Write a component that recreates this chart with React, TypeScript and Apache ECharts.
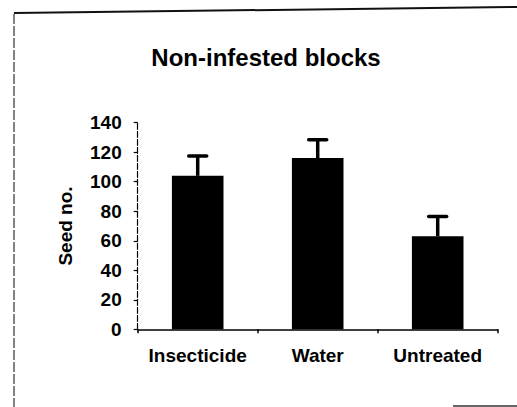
import React, { useEffect, useRef } from "react";
import * as echarts from "echarts";

const categories = ["Insecticide", "Water", "Untreated"];
const means = [104, 116, 63];
const errors = [13.5, 12.5, 13.5];
const yTicks = { min: 0, max: 140, interval: 20 };
const titleText = "Non-infested blocks";
const yName = "Seed no.";

const FONT = "'Liberation Sans', Arial, sans-serif";

export default function App() {
  const ref = useRef<HTMLDivElement>(null);
  useEffect(() => {
    if (!ref.current) return;
    const chart = echarts.init(ref.current, null, { renderer: "svg" });
    chart.setOption({
      animation: false,
      backgroundColor: "#ffffff",
      textStyle: { fontFamily: FONT },
      grid: { left: 137.7, right: 19.3, top: 122.7, bottom: 77.7, containLabel: false },
      graphic: [
        {
          type: "text",
          x: 266,
          y: 57,
          style: {
            text: titleText,
            fontFamily: FONT,
            fontWeight: "bold",
            fontSize: 24,
            fill: "#000",
            textAlign: "center",
            textVerticalAlign: "middle",
          },
        },
        { type: "line", shape: { x1: 14, y1: 13, x2: 517, y2: 7 }, style: { stroke: "#111", lineWidth: 2 } },
        { type: "line", shape: { x1: 14, y1: 14, x2: 14, y2: 407 }, style: { stroke: "#333", lineWidth: 1.2, lineDash: [10, 2] } },
        { type: "line", shape: { x1: 453, y1: 406, x2: 517, y2: 406 }, style: { stroke: "#333", lineWidth: 1.5 } },
      ],
      xAxis: {
        type: "category",
        data: categories,
        axisLine: { lineStyle: { color: "#000", width: 1.5 } },
        axisTick: { show: true, length: 4, lineStyle: { color: "#000", width: 1.5 } },
        axisLabel: { color: "#000", fontWeight: "bold", fontSize: 19, fontFamily: FONT, margin: 17, interval: 0 },
        splitLine: { show: false },
      },
      yAxis: {
        type: "value",
        min: yTicks.min,
        max: yTicks.max,
        interval: yTicks.interval,
        name: yName,
        nameLocation: "middle",
        nameGap: 63,
        nameRotate: 90,
        nameTextStyle: { color: "#000", fontWeight: "bold", fontSize: 19, fontFamily: FONT },
        axisLine: { show: true, lineStyle: { color: "#000", width: 1.2, type: [6, 2] } },
        axisTick: { show: true, length: 4, lineStyle: { color: "#000", width: 1.2 } },
        axisLabel: { color: "#000", fontWeight: "bold", fontSize: 19, fontFamily: FONT, margin: 16 },
        splitLine: { show: false },
      },
      series: [
        {
          type: "bar",
          data: means,
          barWidth: "43%",
          itemStyle: { color: "#000" },
          z: 2,
        },
        {
          type: "custom",
          data: means.map((m, i) => [i, m, m + errors[i]]),
          z: 3,
          renderItem: (params: any, api: any) => {
            const x = api.value(0);
            const base = api.coord([x, api.value(1)]);
            const top = api.coord([x, api.value(2)]);
            const half = 9;
            return {
              type: "group",
              children: [
                {
                  type: "line",
                  shape: { x1: base[0], y1: base[1], x2: top[0], y2: top[1] },
                  style: { stroke: "#000", lineWidth: 3.5 },
                },
                {
                  type: "line",
                  shape: { x1: top[0] - half, y1: top[1], x2: top[0] + half, y2: top[1] },
                  style: { stroke: "#000", lineWidth: 3.5, lineCap: "round" },
                },
              ],
            };
          },
        },
      ],
    });
    return () => chart.dispose();
  }, []);
  return (
    <div
      ref={ref}
      style={{ position: "fixed", left: 0, top: 0, width: 517, height: 407 }}
    />
  );
}
